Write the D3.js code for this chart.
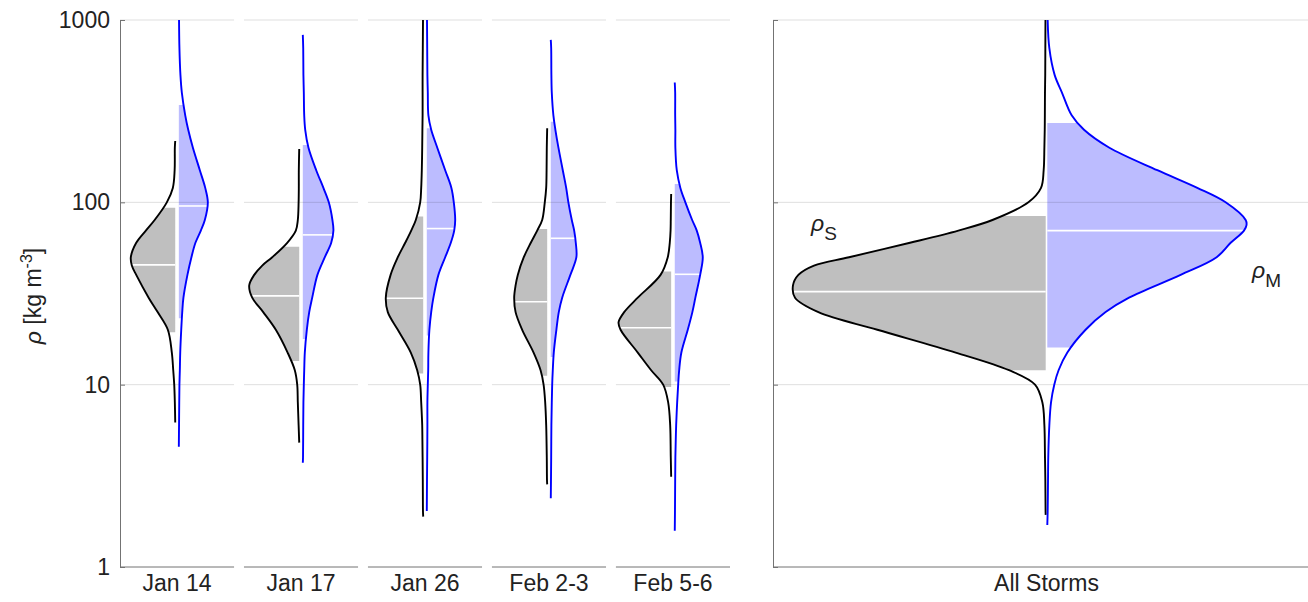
<!DOCTYPE html>
<html>
<head>
<meta charset="utf-8">
<script src="https://cdn.jsdelivr.net/npm/d3@7"></script>
<style>
  body { margin: 0; background: #fff; }
  text { font-family: "Liberation Sans", Arial, sans-serif; fill: #222; }
</style>
</head>
<body>
<svg id="chart"></svg>
<script>
const storms = ["Jan 14", "Jan 17", "Jan 26", "Feb 2-3", "Feb 5-6"];
const allLabel = "All Storms";
const yTicks = [1, 10, 100, 1000];

// shaded range + median per storm: rho_S (black side) and rho_M (blue side)
const sLow = [19.4, 13.5, 11.5, 11.2, 9.7];
const sMedian = [45.4, 30.7, 29.8, 28.5, 20.5];
const sHigh = [93.5, 57.1, 83.5, 71.5, 41.7];
const mLow = [23.1, 17.8, 18.6, 14.2, 10.4];
const mMedian = [95.5, 66.3, 71.8, 63.5, 40.3];
const mHigh = [342, 206, 255, 277, 126];

// all storms: [rho_S, rho_M]
const allLow = [12.0, 16.0];
const allMedian = [32.4, 70.0];
const allHigh = [84.2, 272];

// density profiles, [rho, density]
const sDensity = [
  [[6.2,0],[8,0.02],[10,0.05],[12,0.10],[15,0.17],[20,0.37],[25,0.88],[30,1.33],[40,1.95],[45,2.17],[50,2.22],[60,1.95],[70,1.47],[80,1.03],[100,0.42],[120,0.12],[150,0.03],[200,0.02],[217,0]],
  [[4.81,0],[6,0.03],[8,0.07],[10,0.10],[12,0.22],[15,0.58],[20,1.17],[25,1.80],[30,2.35],[35,2.50],[40,2.25],[45,1.85],[50,1.35],[60,0.60],[70,0.17],[80,0.07],[100,0.03],[120,0.02],[150,0.02],[196,0]],
  [[1.89,0],[2,0.01],[3,0.02],[4,0.03],[5,0.04],[6,0.05],[8,0.10],[10,0.15],[12,0.30],[15,0.62],[20,1.27],[25,1.77],[30,1.87],[40,1.63],[50,1.27],[60,0.90],[70,0.60],[80,0.37],[100,0.15],[120,0.10],[150,0.07],[200,0.05],[250,0.04],[300,0.03],[400,0.03],[500,0.03],[700,0.02],[1000,0.01]],
  [[2.84,0],[3,0.01],[4,0.02],[6,0.05],[8,0.10],[10,0.18],[12,0.33],[15,0.68],[20,1.25],[25,1.58],[30,1.65],[35,1.58],[40,1.47],[50,1.17],[60,0.82],[70,0.50],[80,0.25],[100,0.12],[120,0.05],[150,0.03],[200,0.02],[255,0]],
  [[3.13,0],[4,0.02],[6,0.05],[8,0.15],[10,0.40],[12,1.00],[15,1.67],[20,2.53],[22,2.63],[25,2.35],[30,1.67],[40,0.53],[50,0.17],[60,0.07],[70,0.03],[80,0.02],[100,0.01],[111,0]]
];
const mDensity = [
  [[4.57,0],[6,0.01],[8,0.02],[10,0.03],[12,0.05],[15,0.07],[20,0.12],[25,0.17],[30,0.23],[40,0.43],[50,0.63],[60,0.83],[70,1.10],[80,1.30],[100,1.45],[120,1.32],[150,1.05],[200,0.70],[250,0.47],[300,0.32],[400,0.15],[500,0.08],[700,0.03],[1000,0.01]],
  [[3.73,0],[4,0.01],[6,0.02],[8,0.03],[10,0.05],[12,0.07],[15,0.10],[20,0.20],[25,0.32],[30,0.47],[40,0.73],[50,1.10],[60,1.42],[70,1.53],[80,1.48],[100,1.30],[120,1.03],[150,0.67],[200,0.28],[250,0.12],[300,0.07],[400,0.05],[500,0.03],[700,0.02],[829,0]],
  [[2.03,0],[3,0.01],[4,0.02],[6,0.03],[8,0.03],[10,0.05],[12,0.07],[15,0.08],[20,0.13],[25,0.22],[30,0.33],[40,0.58],[50,0.92],[60,1.20],[70,1.37],[80,1.42],[100,1.35],[120,1.23],[150,0.92],[200,0.52],[250,0.22],[300,0.08],[400,0.05],[500,0.03],[700,0.02],[1000,0.01]],
  [[2.38,0],[3,0.01],[4,0.02],[6,0.03],[8,0.05],[10,0.07],[12,0.10],[15,0.15],[20,0.28],[25,0.40],[30,0.57],[40,0.98],[50,1.28],[60,1.25],[70,1.17],[80,1.05],[100,0.88],[120,0.77],[150,0.60],[200,0.38],[250,0.23],[300,0.13],[400,0.05],[500,0.03],[700,0.02],[778,0]],
  [[1.58,0],[2,0.01],[3,0.02],[4,0.03],[5,0.05],[6,0.07],[8,0.12],[10,0.17],[12,0.22],[15,0.33],[20,0.65],[25,0.88],[30,1.03],[40,1.27],[50,1.40],[60,1.27],[70,1.10],[80,0.87],[100,0.53],[120,0.28],[150,0.10],[200,0.03],[250,0.03],[300,0.02],[400,0.02],[454,0]]
];
const allSDensity = [[1.93,0],[2,0.001],[3,0.003],[4,0.006],[6,0.011],[8,0.028],[10,0.089],[12,0.306],[15,0.750],[20,1.403],[25,1.894],[30,2.089],[35,2.106],[40,2.061],[45,1.931],[50,1.639],[60,1.131],[70,0.728],[80,0.444],[100,0.144],[120,0.039],[150,0.017],[200,0.011],[250,0.008],[300,0.007],[400,0.006],[500,0.004],[700,0.003],[1000,0.002]];
const allMDensity = [[1.7,0],[2,0.003],[3,0.006],[4,0.008],[6,0.017],[8,0.031],[10,0.058],[12,0.094],[15,0.167],[20,0.319],[25,0.486],[30,0.681],[40,1.111],[50,1.411],[60,1.528],[70,1.639],[75,1.66],[80,1.653],[100,1.486],[120,1.25],[150,0.917],[200,0.514],[250,0.306],[300,0.203],[400,0.122],[500,0.061],[700,0.017],[1000,0.003]];

const width = 1308, height = 602;
const svg = d3.select("#chart").attr("width", width).attr("height", height);

const y = d3.scaleLog().domain([1, 1000]).range([567, 20]);
const xBand = d3.scaleBand().domain(storms).range([120, 730]).paddingInner(0.08);
const xAll = d3.scaleLinear().domain([0, 1]).range([773, 1320]);
const wLeft = d3.scaleLinear().domain([0, 1]).range([0, 20]);
const wAll = d3.scaleLinear().domain([0, 1]).range([0, 120]);

const axisColor = "#737373";
const gridColor = "rgba(0,0,0,0.13)";
const smooth = d3.curveCatmullRom.alpha(0.5);

// density at rho, linear in log(rho)
function dens(profile, r) {
  const lr = Math.log10(r);
  for (let i = 1; i < profile.length; i++) {
    const a = profile[i - 1], b = profile[i];
    if (r <= b[0]) {
      const t = (lr - Math.log10(a[0])) / (Math.log10(b[0]) - Math.log10(a[0]));
      return a[1] + t * (b[1] - a[1]);
    }
  }
  return profile[profile.length - 1][1];
}

const fills = svg.append("g");
const grids = svg.append("g");
const lines = svg.append("g");

function halfViolin(profile, lo, med, hi, cx, side, ws, stroke, fill) {
  const px = d => cx + side * ws(Math.max(0, d[1]));
  const pts = profile.slice().sort((a, b) => b[0] - a[0]);
  const inside = pts.filter(d => d[0] < hi && d[0] > lo);
  const shaded = [[hi, dens(profile, hi)], ...inside, [lo, dens(profile, lo)]];

  fills.append("path")
    .datum(shaded)
    .attr("d", d3.area().y(d => y(d[0])).x0(cx).x1(px).curve(smooth))
    .attr("fill", fill);

  fills.append("line")
    .attr("x1", cx)
    .attr("x2", cx + side * ws(dens(profile, med)))
    .attr("y1", y(med))
    .attr("y2", y(med))
    .attr("stroke", "#fff")
    .attr("stroke-width", 1.6);

  lines.append("path")
    .datum(pts)
    .attr("d", d3.line().y(d => y(d[0])).x(px).curve(smooth))
    .attr("fill", "none")
    .attr("stroke", stroke)
    .attr("stroke-width", 1.9)
    .attr("stroke-linejoin", "round");
}

function grid(x0, x1) {
  grids.selectAll(null)
    .data([10, 100, 1000])
    .enter()
    .append("line")
    .attr("x1", x0).attr("x2", x1)
    .attr("y1", d => y(d)).attr("y2", d => y(d))
    .attr("stroke", gridColor)
    .attr("stroke-width", 1);
}

// storm subplots
storms.forEach((s, i) => {
  const x0 = xBand(s), x1 = x0 + xBand.bandwidth();
  const c = x0 + xBand.bandwidth() / 2;
  grid(x0, x1);
  halfViolin(sDensity[i], sLow[i], sMedian[i], sHigh[i], c - 1.8, -1, wLeft, "#000", "#bfbfbf");
  halfViolin(mDensity[i], mLow[i], mMedian[i], mHigh[i], c + 1.8, 1, wLeft, "#0000ff", "#bcbcff");

  svg.append("line")
    .attr("x1", x0).attr("x2", x1)
    .attr("y1", y(1)).attr("y2", y(1))
    .attr("stroke", axisColor);

  svg.append("text")
    .attr("x", c)
    .attr("y", 591)
    .attr("text-anchor", "middle")
    .style("font-size", "23px")
    .text(s);
});

// all storms panel
const cAll = xAll(0.5);
grid(xAll(0), width);
halfViolin(allSDensity, allLow[0], allMedian[0], allHigh[0], cAll - 0.8, -1, wAll, "#000", "#bfbfbf");
halfViolin(allMDensity, allLow[1], allMedian[1], allHigh[1], cAll + 0.8, 1, wAll, "#0000ff", "#bcbcff");

svg.append("line")
  .attr("x1", xAll(0)).attr("x2", width)
  .attr("y1", y(1)).attr("y2", y(1))
  .attr("stroke", axisColor);

svg.append("text")
  .attr("x", cAll)
  .attr("y", 591)
  .attr("text-anchor", "middle")
  .style("font-size", "23px")
  .text(allLabel);

// y axes
const yAxis = svg.append("g")
  .attr("transform", `translate(${xBand(storms[0])},0)`)
  .call(d3.axisLeft(y).tickValues(yTicks).tickFormat(d3.format("d")).tickSize(-5).tickSizeOuter(0).tickPadding(10));
yAxis.selectAll("text").style("font-size", "23px").attr("fill", "#222");

const yAxis2 = svg.append("g")
  .attr("transform", `translate(${xAll(0)},0)`)
  .call(d3.axisLeft(y).tickValues(yTicks).tickFormat("").tickSize(-5).tickSizeOuter(0));

[yAxis, yAxis2].forEach(a => {
  a.select(".domain").attr("stroke", axisColor);
  a.selectAll(".tick line").attr("stroke", axisColor);
});

// y label
const yLabel = svg.append("text")
  .attr("transform", "translate(41,296) rotate(-90)")
  .attr("text-anchor", "middle")
  .style("font-size", "23px");
yLabel.append("tspan").style("font-style", "italic").text("ρ");
yLabel.append("tspan").text(" [kg m");
yLabel.append("tspan").attr("dy", -9).style("font-size", "16px").text("-3");
yLabel.append("tspan").attr("dy", 9).text("]");

// annotations
const labS = svg.append("text").attr("x", 811).attr("y", 231).style("font-size", "23px");
labS.append("tspan").style("font-style", "italic").text("ρ");
labS.append("tspan").attr("dy", 9).style("font-size", "19px").text("S");

const labM = svg.append("text").attr("x", 1252).attr("y", 278).style("font-size", "23px");
labM.append("tspan").style("font-style", "italic").text("ρ");
labM.append("tspan").attr("dy", 9).style("font-size", "19px").text("M");
</script>
</body>
</html>
